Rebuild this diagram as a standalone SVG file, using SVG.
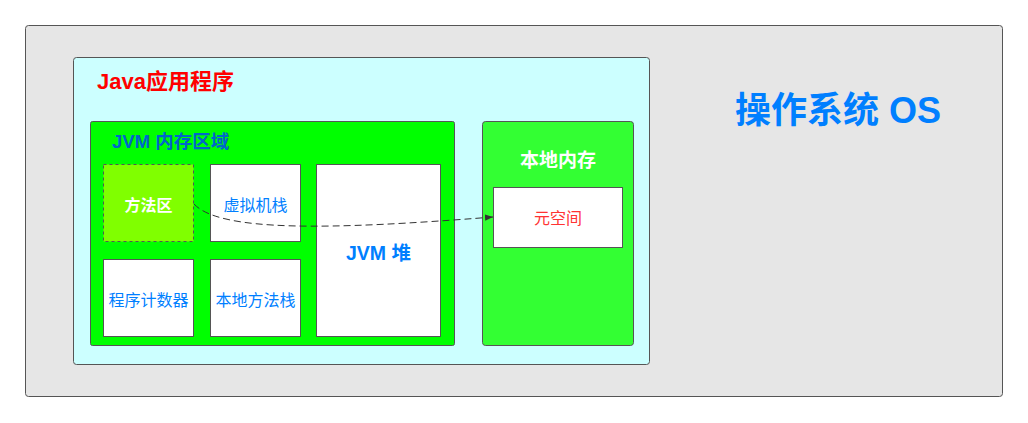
<svg xmlns="http://www.w3.org/2000/svg" width="1028" height="423" viewBox="0 0 1028 423">
<defs>
<style>
.box{stroke:#555;stroke-width:1}
.t{font-family:"Liberation Sans","Noto Sans CJK SC",sans-serif;text-anchor:middle;dominant-baseline:central}
.blue{fill:#007fff;font-size:16px}
</style>
<marker id="arr" viewBox="0 0 10 10" refX="10" refY="5" markerWidth="8" markerHeight="8" markerUnits="userSpaceOnUse" orient="auto"><path d="M0,1 L10,5 L0,9 Z" fill="#333"/></marker>
</defs>
<rect width="1028" height="423" fill="#fff"/>
<g id="os"><rect class="box" x="25.5" y="25.5" width="977" height="371" rx="3" fill="#e6e6e6"/>
<text class="t" x="838" y="110" font-size="36" font-weight="bold" fill="#007fff">操作系统 OS</text></g>
<g id="java"><rect class="box" x="73.5" y="57.5" width="576" height="307" rx="3" fill="#ccffff"/>
<text x="97" y="89" font-family="Liberation Sans,Noto Sans CJK SC,sans-serif" font-size="22" font-weight="bold" fill="#ff0000">Java应用程序</text></g>
<g id="jvm"><rect class="box" x="90.5" y="121.5" width="364" height="224" rx="2" fill="#00ff00"/>
<text x="112" y="148" font-family="Liberation Sans,Noto Sans CJK SC,sans-serif" font-size="18.5" font-weight="bold" fill="#0066cc">JVM 内存区域</text></g>
<g id="method"><rect x="103.5" y="164.5" width="90" height="77" fill="#80ff00" stroke="#555" stroke-dasharray="3,3"/>
<text class="t" x="148.5" y="205" font-size="16" font-weight="bold" fill="#fff">方法区</text></g>
<g id="vmstack"><rect class="box" x="210.5" y="164.5" width="90" height="77" fill="#fff"/>
<text class="t blue" x="255.5" y="205">虚拟机栈</text></g>
<g id="pc"><rect class="box" x="103.5" y="259.5" width="90" height="77" fill="#fff"/>
<text class="t blue" x="148.5" y="300">程序计数器</text></g>
<g id="nstack"><rect class="box" x="210.5" y="259.5" width="90" height="77" fill="#fff"/>
<text class="t blue" x="255.5" y="300">本地方法栈</text></g>
<g id="heap"><rect class="box" x="316.5" y="164.5" width="124" height="172" fill="#fff"/>
<text class="t" x="378.5" y="253" font-size="19.5" font-weight="bold" fill="#007fff">JVM 堆</text></g>
<g id="native"><rect class="box" x="482.5" y="121.5" width="151" height="224" rx="3" fill="#33ff33"/>
<text class="t" x="558" y="160" font-size="19" font-weight="bold" fill="#fff">本地内存</text></g>
<g id="meta"><rect class="box" x="493.5" y="187.5" width="129" height="60" fill="#fff"/>
<text class="t" x="558" y="218" font-size="16" fill="#ff3333">元空间</text></g>
<g id="connectors"><path d="M194,204 C220,232 330,230 493,217" fill="none" stroke="#333" stroke-dasharray="7,4" marker-end="url(#arr)"/></g>
</svg>
